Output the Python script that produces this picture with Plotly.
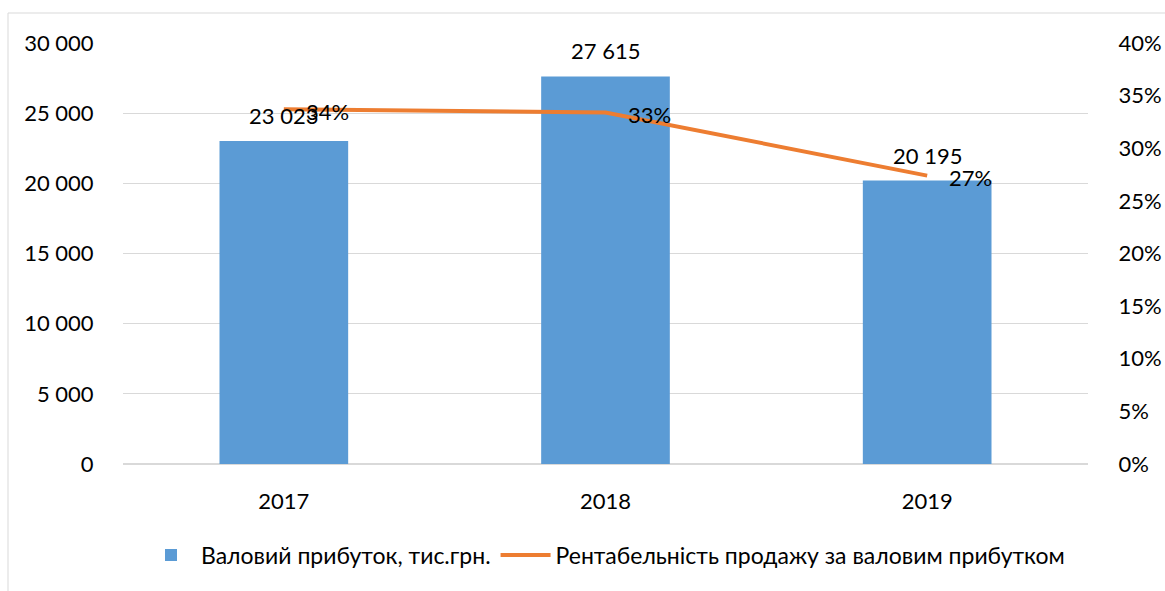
import plotly.graph_objects as go

years = ["2017", "2018", "2019"]
gross_profit = [23023, 27615, 20195]
profitability = [0.337, 0.334, 0.274]
profit_labels = ["23 023", "27 615", "20 195"]
pct_labels = ["34%", "33%", "27%"]
left_ticks = [0, 5000, 10000, 15000, 20000, 25000, 30000]
left_ticktext = ["0", "5 000", "10 000", "15 000", "20 000", "25 000", "30 000"]
right_ticks = [0, 0.05, 0.10, 0.15, 0.20, 0.25, 0.30, 0.35, 0.40]
right_ticktext = ["0%", "5%", "10%", "15%", "20%", "25%", "30%", "35%", "40%"]

name_bar = "Валовий прибуток, тис.грн."
name_line = "Рентабельність продажу за валовим прибутком"

FONT = "Lato"
FS = 22
fig = go.Figure()
fig.add_trace(go.Bar(x=years, y=gross_profit, name=name_bar,
                     marker=dict(color="#5B9BD5", line=dict(width=0)),
                     width=0.4, yaxis="y"))
fig.add_trace(go.Scatter(x=years, y=profitability, name=name_line, mode="lines",
                         line=dict(color="#ED7D31", width=4), yaxis="y2"))

annotations = []
for i, (v, t) in enumerate(zip(gross_profit, profit_labels)):
    annotations.append(dict(x=i, y=v, xref="x", yref="y", text=t, showarrow=False,
                            yanchor="bottom", yshift=10,
                            font=dict(family=FONT, size=FS, color="#000")))
for i, (v, t) in enumerate(zip(profitability, pct_labels)):
    annotations.append(dict(x=i, y=v, xref="x", yref="y2", text=t, showarrow=False,
                            xanchor="left", xshift=20, yshift=-2,
                            font=dict(family=FONT, size=FS, color="#000")))

fig.update_layout(
    width=1165, height=591,
    margin=dict(l=123, r=77, t=43, b=127, autoexpand=False),
    paper_bgcolor="white", plot_bgcolor="white",
    font=dict(family=FONT, size=FS, color="#000"),
    showlegend=True,
    legend=dict(orientation="h", x=0.5, xanchor="center", y=-0.216, yanchor="middle",
                font=dict(family=FONT, size=23), itemwidth=50, tracegroupgap=0),
    bargap=0.6,
    xaxis=dict(type="category", range=[-0.5, 2.5], showgrid=False, showline=False,
               ticks="outside", ticklen=18, tickcolor="rgba(0,0,0,0)",
               tickfont=dict(size=FS), automargin=False),
    yaxis=dict(range=[0, 30000], tickvals=left_ticks, ticktext=left_ticktext,
               showgrid=True, gridcolor="#D9D9D9", gridwidth=1, zeroline=True,
               zerolinecolor="#D9D9D9", showline=False, ticks="outside", ticklen=24,
               tickcolor="rgba(0,0,0,0)", tickfont=dict(size=FS), automargin=False),
    yaxis2=dict(range=[0, 0.40], tickvals=right_ticks, ticktext=right_ticktext,
                overlaying="y", side="right", showgrid=False, zeroline=False,
                showline=False, ticks="outside", ticklen=25,
                tickcolor="rgba(0,0,0,0)", tickfont=dict(size=FS), automargin=False),
    annotations=annotations,
)

# chart outer border (light gray)
fig.add_shape(type="rect", xref="paper", yref="paper",
              x0=(8 - 123) / 965, x1=(1200 - 123) / 965,
              y0=(464 - 600) / 421, y1=(464 - 13) / 421,
              line=dict(color="#D9D9D9", width=1), fillcolor="rgba(0,0,0,0)", layer="below")

fig.write_html("out.html", config={"displayModeBar": False},
               post_script="document.body.style.margin='0';document.body.style.overflow='hidden';")
